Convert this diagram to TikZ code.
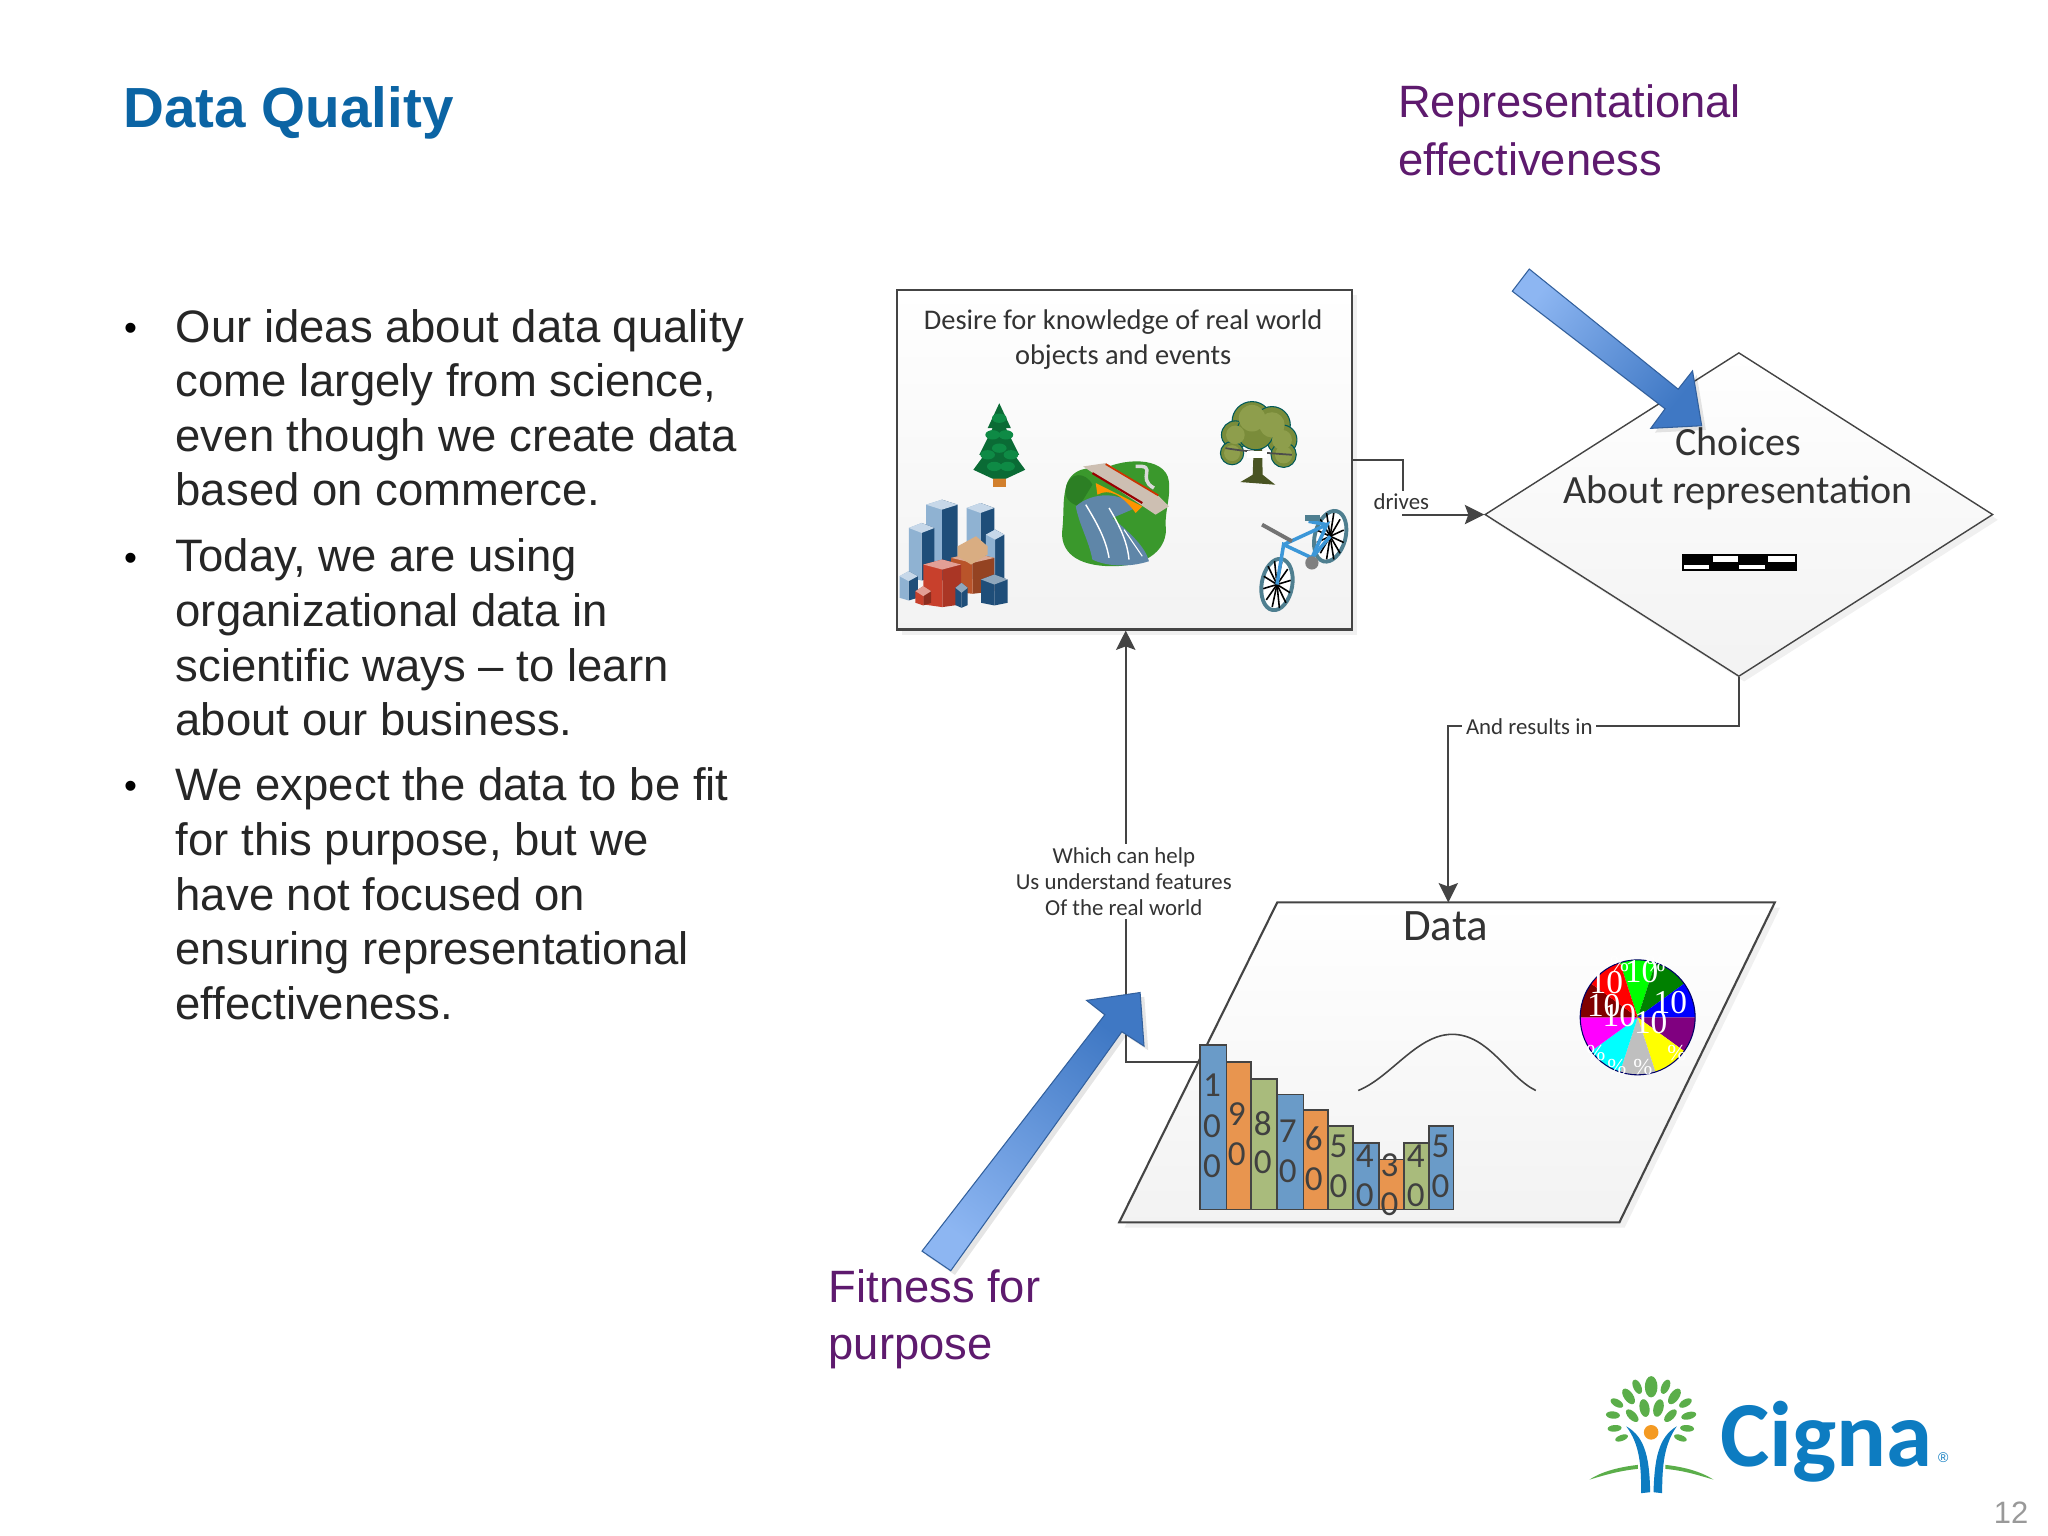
\documentclass[tikz,border=0pt]{standalone}
\usepackage{fontspec}
\setmainfont{Liberation Sans}
\newfontfamily\carlito{Carlito}
\newfontfamily\serifx{Liberation Serif}
\usetikzlibrary{shapes.geometric,arrows.meta,shadows,calc}
\definecolor{ttl}{HTML}{0B64A4}
\definecolor{purp}{HTML}{5E1A6E}
\definecolor{ln}{HTML}{444444}
\definecolor{bbl}{HTML}{6A9BC8}
\definecolor{bor}{HTML}{E8954F}
\definecolor{bgr}{HTML}{A9BB7C}
\definecolor{leaf}{HTML}{5BAE4A}
\definecolor{cig}{HTML}{0D7CC1}
\definecolor{towL}{HTML}{8FB2D2}
\definecolor{towR}{HTML}{1F4E79}
\definecolor{bluL}{HTML}{8DB6F2}
\definecolor{bluD}{HTML}{3F78C4}
\definecolor{pLime}{HTML}{00FF00}
\definecolor{pDg}{HTML}{008000}
\definecolor{pBl}{HTML}{0000FF}
\definecolor{pPu}{HTML}{800080}
\definecolor{pYe}{HTML}{FFFF00}
\definecolor{pGr}{HTML}{BFBFBF}
\definecolor{pCy}{HTML}{00FFFF}
\definecolor{pMa}{HTML}{FF00FF}
\definecolor{pMr}{HTML}{800000}
\definecolor{pRe}{HTML}{FF0000}
\definecolor{oak1}{HTML}{7A8C3A}
\definecolor{oak2}{HTML}{8E9E4C}
\definecolor{grass}{HTML}{3A982C}
\definecolor{grass2}{HTML}{2C7F24}
\definecolor{river}{HTML}{5F86A8}
\definecolor{beam}{HTML}{CDBFB2}
\definecolor{pine1}{HTML}{0A6B35}
\definecolor{pine2}{HTML}{0E8A45}
\definecolor{bikeb}{HTML}{3C97D8}
\definecolor{brick}{HTML}{C8402C}
\definecolor{rust}{HTML}{B9542A}
\definecolor{sun}{HTML}{F49A22}
\definecolor{rim}{HTML}{4F7F90}
\def\un{0.01306cm}
\newcommand{\bldg}[6]{%
  \fill[#6] ({(#1+#2)/2},#3) -- (#2,{#3+15}) -- (#2,#4) -- ({(#1+#2)/2},{#4+8}) -- cycle;
  \fill[#5] ({(#1+#2)/2},#3) -- (#1,{#3+15}) -- (#1,#4) -- ({(#1+#2)/2},{#4+8}) -- cycle;
  \fill[#5!50!white] (#1,{#3+15}) -- ({(#1+#2)/2},#3) -- (#2,{#3+15}) -- ({(#1+#2)/2},{#3+30}) -- cycle;}
\tikzset{
  x=\un,y=-\un,
  body/.style={font=\fontsize{12.94}{15.53}\selectfont,anchor=north west,align=left,inner sep=0pt,text=black!85},
  bulletmark/.style={font=\fontsize{10.5}{12}\selectfont,inner sep=0pt},
  purptext/.style={font=\fontsize{12.9}{16.4}\selectfont,anchor=north west,align=left,inner sep=0pt,text=purp},
  conn/.style={draw=ln,line width=0.55pt},
  arr/.style={conn,-{Stealth[length=5.5pt,width=5.5pt,inset=1pt]}},
  small/.style={font=\carlito\fontsize{6.5}{7.5}\selectfont,fill=white,inner sep=1pt,align=center,text=black!80},
  panel/.style={draw=ln,line width=0.6pt,top color=white,bottom color=black!5,
     general shadow={shadow xshift=1.5pt,shadow yshift=-1.5pt,fill=black,opacity=.06}},
  barbox/.style={draw=ln,line width=0.45pt},
  digit/.style={font=\carlito\fontsize{10}{10}\selectfont,inner sep=0pt,text=black!75},
  bigarrow/.style={draw=bluD!80!black,line width=0.3pt,shading=axis,
     general shadow={shadow xshift=1.2pt,shadow yshift=-1.2pt,fill=black,opacity=.1}},
  lf/.style={fill=leaf},
}
\begin{document}
\begin{tikzpicture}
\useasboundingbox (0,0) rectangle (1568.2,1176.1);
\fill[white] (0,0) rectangle (1568.2,1176.1);

% title and body
\node[anchor=base west,inner sep=0pt,text=ttl,font=\bfseries\fontsize{16.1}{19}\selectfont] (title) at (94,97.5) {Data Quality};
\node[bulletmark] (b1) at (100,254) {•};
\node[body] (t1) at (134,236.2) {Our ideas about data quality\\come largely from science,\\even though we create data\\based on commerce.};
\node[bulletmark] (b2) at (100,430) {•};
\node[body] (t2) at (134,412.2) {Today, we are using\\organizational data in\\scientific ways – to learn\\about our business.};
\node[bulletmark] (b3) at (100,605) {•};
\node[body] (t3) at (134,587.5) {We expect the data to be fit\\for this purpose, but we\\have not focused on\\ensuring representational\\effectiveness.};

\node[purptext] (rep) at (1070,64.5) {Representational\\effectiveness};
\node[purptext] (fit) at (634,971.5) {Fitness for\\purpose};

% main shapes
\node[panel,rectangle,inner sep=0pt,minimum width=348*\un,minimum height=260*\un] (world) at (861,352) {};
\node[panel,diamond,inner sep=0pt,minimum width=389*\un,minimum height=248*\un,line width=0.4pt] (choice) at (1331.5,394) {};
\coordinate (dataTL) at (978,691);
\coordinate (dataTR) at (1359,691);
\coordinate (dataBR) at (1240,936);
\coordinate (dataBL) at (857,936);
\path[panel] (dataTL) -- (dataTR) -- (dataBR) -- (dataBL) -- cycle;

% texts in the shapes
\node[font=\carlito\fontsize{8.1}{9.7}\selectfont,align=center,inner sep=0pt,text=black!80] (desire) at (860,260) {Desire for knowledge of real world\\objects and events};
\node[font=\carlito\fontsize{11.4}{13.7}\selectfont,align=center,inner sep=0pt,text=black!80] (chtext) at (1331,359) {Choices\\About representation};
\node[font=\carlito\fontsize{12.8}{14}\selectfont,inner sep=0pt,text=black!80] (datatxt) at (1107,709) {Data};

% legend bar
\fill[black] (1288,424) rectangle (1376,437);
\foreach \a/\b/\c/\d in {.015/.235/.64/.9,.265/.485/.12/.5,.495/.72/.64/.9,.745/.985/.12/.5}
  \fill[white] ({1288+88*\a},{424+13*\c}) rectangle ({1288+88*\b},{424+13*\d});

% pie
\coordinate (pie) at (1254,779);
\foreach \col [count=\i from 0] in {pLime,pDg,pBl,pPu,pYe,pGr,pCy,pMa,pMr,pRe}{
  \fill[\col] (pie) -- ++({252+36*\i}:44) arc[start angle={252+36*\i},delta angle=36,radius=44] -- cycle;
}
\draw[blue!40!black,line width=0.3pt] (pie) circle[radius=44];
\foreach \p/\q in {1230/752,1279/768,1240/778,1264/783,1228/770,1257/744}
  \node[font=\serifx\fontsize{9.5}{9.5}\selectfont,inner sep=0pt,text=white] at (\p,\q) {10};
\foreach \p/\q in {1238/817,1258/817,1222/806,1284/806,1240/738,1268/738}
  \node[font=\serifx\fontsize{6.5}{6.5}\selectfont,inner sep=0pt,text=white] at (\p,\q) {\%};

% bell curve
\coordinate (bellL) at (1040,835);
\coordinate (bellP) at (1112,792);
\coordinate (bellR) at (1176,835);
\draw[ln,line width=0.45pt] (bellL) .. controls (1065,825) and (1085,792) .. (bellP) .. controls (1140,792) and (1155,825) .. (bellR);

% bars
\foreach \xa/\xb/\yt/\col in {919/939/800/bbl,939/958/813/bor,958/978/826/bgr,978/998/838/bbl,998/1017/850/bor,1017/1036/862/bgr,1036/1056/875/bbl,1056/1075/888/bor,1075/1094/875/bgr,1094/1113/862/bbl}{
  \draw[barbox,fill=\col] (\xa,\yt) rectangle (\xb,926);
}
\foreach \x/\y/\d in {928/831/1,928/862/0,928/893/0,
  947/853/9,947/884/0, 967/860/8,967/890/0, 986/866/7,986/897/0,
  1006/872/6,1006/903/0, 1025/878/5,1025/908/0, 1045/885/4,1045/915/0,
  1064/892/3,1064/922/0, 1084/885/4,1084/915/0, 1103/878/5,1103/908/0}
  \node[digit] at (\x,\y) {\d};

% connectors
\coordinate (drivebend) at (1074,394);
\coordinate (resbend) at (1109,556);
\coordinate (barsrc) at (919,813);
\coordinate (bend3) at (862,813);
\draw[arr] (world.east) -| (drivebend) -- (choice.west);
\draw[arr] (choice.south) |- (resbend) -- (resbend |- dataTL);
\draw[arr] (barsrc) -- (bend3) -- (bend3 |- world.south);
\node[small] (ldrives) at (1073,384.5) {drives};
\node[small] (lres) at (1171,556.5) {And results in};
\node[small] (lhelp) at (860.5,675) {Which can help\\Us understand features\\Of the real world};

% big arrows
\path[bigarrow,bottom color=bluD,top color=bluL,shading angle=51]
  (1171,206) -- (1285,298) -- (1296,284) -- (1303,326) -- (1264,328) -- (1275,313) -- (1158,223) -- cycle;
\path[bigarrow,bottom color=bluD,top color=bluL,shading angle=144]
  (728,973) -- (859,790) -- (876,801) -- (873,760) -- (832,766) -- (846,777) -- (706,958) -- cycle;

% world icons: zoom-pixel scope
\begin{scope}[shift={(673.5,198)},x=0.003325cm,y=-0.003325cm]
  % pine
  \fill[brown!70!orange] (340,640) rectangle (380,688);
  \fill[pine1] (360,435) -- (395,510) -- (380,510) -- (420,590) -- (405,590) -- (438,635) -- (380,662) -- (340,662) -- (282,635) -- (315,590) -- (300,590) -- (340,510) -- (325,510) -- cycle;
  \foreach \p/\q in {360/480,340/530,380/530,360/570,325/590,395/590,345/625,385/625}
    \fill[pine2] (\p,\q) ellipse[x radius=22,y radius=14];
  % oak
  \fill[oak1!60!black] (1125,570) -- (1150,570) -- (1152,650) -- (1190,680) -- (1085,672) -- (1122,650) -- cycle;
  \foreach \p/\q/\r in {1120/490/60,1180/500/55,1070/530/42,1210/545/45,1130/520/55,1060/585/35,1215/590/38}
    \fill[oak1,draw=teal!70!black,line width=0.3pt] (\p,\q) circle[radius=\r];
  \foreach \p/\q/\r in {1120/480/40,1180/500/38,1070/530/28,1210/545/30,1060/585/24,1215/590/26}
    \fill[oak2] (\p,\q) circle[radius=\r];
  \draw[black!70,line width=0.5pt] (1040,570) .. controls (1100,580) and (1170,585) .. (1240,590);
  \fill[white] (1105,578) rectangle (1165,600);
  % bridge landscape
  \fill[grass] (560,690) .. controls (570,630) and (640,620) .. (660,640) .. controls (720,600) and (860,590) .. (870,670) .. controls (875,720) and (860,750) .. (860,800) .. controls (870,870) and (810,925) .. (700,925) .. controls (590,925) and (540,880) .. (550,810) .. controls (555,760) and (550,730) .. (560,690) -- cycle;
  \fill[grass2] (560,690) .. controls (570,640) and (620,640) .. (640,680) -- (600,745) .. controls (570,735) and (555,720) .. (560,690) -- cycle;
  \fill[river] (590,745) .. controls (640,700) and (730,700) .. (770,750) -- (700,780) .. controls (760,830) and (800,870) .. (810,910) .. controls (750,930) and (680,925) .. (640,905) .. controls (630,850) and (600,800) .. (590,745) -- cycle;
  \fill[orange!85!yellow] (650,675) -- (790,745) -- (770,765) .. controls (730,710) and (690,690) .. (655,710) -- cycle;
  \fill[beam] (612,625) -- (680,615) -- (840,715) -- (870,745) -- (830,770) -- cycle;
  \draw[red!60!black,line width=0.6pt] (640,645) -- (790,735);
  \draw[red!50!orange!80!black,line width=0.5pt] (680,618) -- (838,712);
  \draw[white,line width=0.4pt] (620,740) .. controls (650,790) and (680,840) .. (690,900);
  \draw[white,line width=0.4pt] (690,750) .. controls (720,800) and (745,850) .. (750,905);
  \draw[white,line width=0.3pt] (735,815) -- (790,895);
  \draw[black!15,line width=1pt] (770,625) .. controls (840,620) and (770,660) .. (825,690);
  % city
  \bldg{140}{235}{725}{960}{towL}{towR}
  \bldg{262}{345}{735}{960}{towL}{towR}
  \bldg{88}{165}{795}{960}{towL}{towR}
  \bldg{320}{375}{815}{960}{towL}{towR}
  \bldg{60}{115}{940}{1020}{towL}{towR}
  \bldg{215}{345}{885}{1000}{rust}{rust!80!black}
  \fill[orange!40!white!85!black] (235,865) -- (290,835) -- (325,865) -- (325,890) -- (275,920) -- (235,895) -- cycle;
  \bldg{132}{245}{905}{1040}{brick}{brick!85!black}
  \bldg{108}{155}{985}{1035}{brick}{brick!70!black}
  \bldg{228}{265}{975}{1042}{towR}{towR}
  \bldg{305}{385}{950}{1035}{towR}{towR}
  % bike
  \begin{scope}[line width=0.45pt]
    \foreach \cx/\cy/\rot in {1355/835/-15,1195/980/-10}{
      \draw[rim,line width=1.1pt,fill=white] (\cx,\cy) ellipse[x radius=46,y radius=78,rotate=\rot];
      \foreach \a in {0,30,...,150}
        \draw[black,line width=0.45pt] ({\cx+42*cos(\a+\rot)},{\cy+72*sin(\a+\rot)}) -- ({\cx-42*cos(\a+\rot)},{\cy-72*sin(\a+\rot)});
    }
    \draw[bikeb,line width=1pt] (1195,980) -- (1215,860) -- (1300,900) -- (1345,800) -- (1215,860);
    \draw[bikeb,line width=1pt] (1300,900) -- (1355,835) (1345,800) -- (1290,790);
    \draw[black!55,line width=1.1pt] (1150,800) -- (1240,850);
    \fill[rim] (1280,770) rectangle (1325,790);
    \fill[black!50] (1300,915) circle[radius=20];
  \end{scope}
\end{scope}

% logo
\begin{scope}[shift={(1194.3,1042)},x=0.003325cm,y=-0.003325cm]
  \foreach \p/\q/\rx/\ry/\r in {275/78/19/32/0,233/78/12/23/25,318/78/12/23/-25,207/107/14/27/35,345/107/14/27/-35,
     172/127/11/21/60,378/127/11/21/-60,160/163/11/21/85,388/165/11/23/-75,165/203/10/21/95,383/203/10/21/-95,
     186/232/9/20/110,363/232/9/20/-110,255/142/15/27/10,297/142/15/27/-15,218/165/12/24/45,333/165/12/24/-45}{
    \fill[lf,shift={(\p,\q)},rotate=\r] (0,0) ellipse[x radius=\rx,y radius=\ry];
  }
  \fill[sun] (275,215) circle[radius=22];
  \fill[cig] (200,197) .. controls (260,230) and (270,300) .. (272,395) -- (245,398) .. controls (245,310) and (240,250) .. cycle;
  \fill[cig] (352,197) .. controls (295,230) and (285,300) .. (282,395) -- (308,398) .. controls (308,310) and (315,250) .. cycle;
  \fill[leaf] (90,357) .. controls (130,330) and (190,318) .. (235,313) -- (235,325) .. controls (180,330) and (130,345) .. cycle;
  \fill[leaf] (462,357) .. controls (420,330) and (365,318) .. (318,313) -- (318,325) .. controls (375,330) and (420,345) .. cycle;
\end{scope}
\node[anchor=base west,inner sep=0pt,text=cig,font=\carlito\bfseries\fontsize{26.5}{30}\selectfont] (cigna) at (1317,1123) {Cigna};
\node[inner sep=0pt,text=cig,font=\fontsize{4}{4}\selectfont] (reg) at (1488,1116.5) {®};
\node[inner sep=0pt,text=black!40,font=\fontsize{8.8}{10}\selectfont] (page) at (1540,1158) {12};
\end{tikzpicture}
\end{document}
